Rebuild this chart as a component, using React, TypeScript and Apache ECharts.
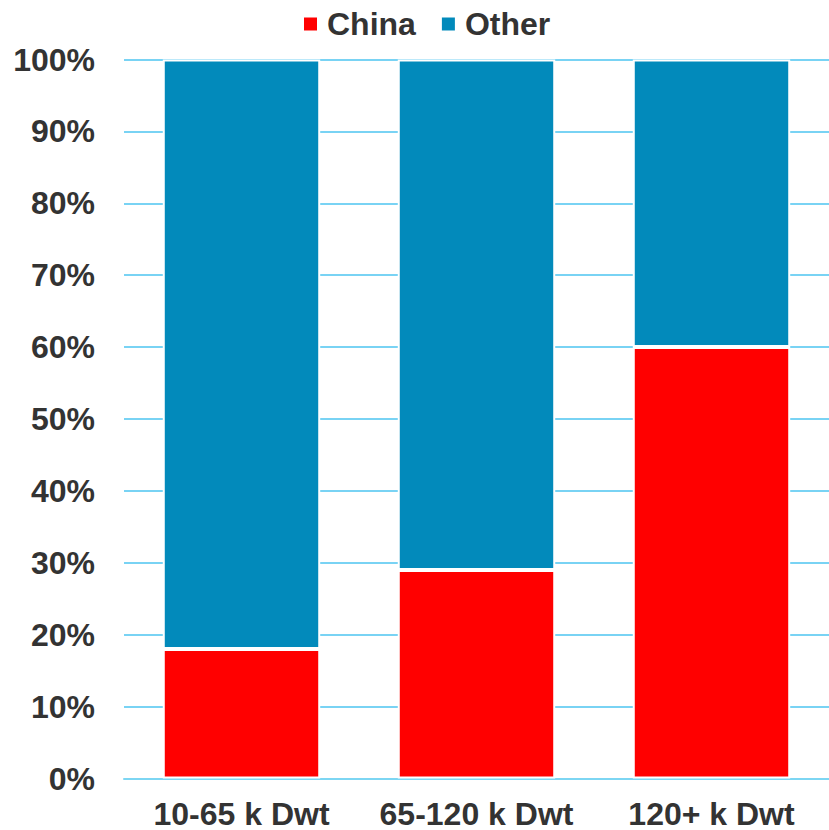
import React, { useEffect, useRef } from "react";
import * as echarts from "echarts";

const categories = ["10-65 k Dwt", "65-120 k Dwt", "120+ k Dwt"];
const chinaShare = [18, 29, 60];
const otherShare = [82, 71, 40];
const seriesNames = ["China", "Other"];

const FONT = "'Liberation Sans', Arial, sans-serif";
const TEXT = "#333333";

export default function App() {
  const ref = useRef<HTMLDivElement>(null);

  useEffect(() => {
    if (!ref.current) return;
    const chart = echarts.init(ref.current, null, { renderer: "svg" });
    chart.setOption({
      animation: false,
      backgroundColor: "#ffffff",
      legend: {
        top: 3,
        left: 297,
        itemWidth: 15,
        itemHeight: 15,
        itemGap: 24,
        icon: "rect",
        textStyle: {
          fontFamily: FONT,
          fontSize: 32,
          fontWeight: "bold",
          color: TEXT,
          padding: [0, 0, 0, 4],
        },
        data: seriesNames,
      },
      grid: { left: 124, right: -6, top: 59.5, bottom: 51.5, containLabel: false },
      xAxis: {
        type: "category",
        data: categories,
        axisLine: { show: true, lineStyle: { color: "#7dd6f3", width: 2 } },
        axisTick: { show: false },
        axisLabel: {
          interval: 0,
          margin: 20,
          lineHeight: 30,
          fontFamily: FONT,
          fontSize: 32,
          fontWeight: "bold",
          color: TEXT,
        },
      },
      yAxis: {
        type: "value",
        min: 0,
        max: 100,
        interval: 10,
        axisLine: { show: false },
        axisTick: { show: false },
        splitLine: { lineStyle: { color: "#4cc5f0", width: 1.5 } },
        axisLabel: {
          margin: 29,
          fontFamily: FONT,
          fontSize: 32,
          fontWeight: "bold",
          color: TEXT,
          formatter: "{value}%",
        },
      },
      series: [
        {
          name: seriesNames[0],
          type: "bar",
          stack: "share",
          data: chinaShare,
          barWidth: "67%",
          itemStyle: { color: "#ff0000", borderColor: "#ffffff", borderWidth: 2 },
        },
        {
          name: seriesNames[1],
          type: "bar",
          stack: "share",
          data: otherShare,
          barWidth: "67%",
          itemStyle: { color: "#028abb", borderColor: "#ffffff", borderWidth: 2 },
        },
      ],
    });
    return () => chart.dispose();
  }, []);

  return (
    <div
      ref={ref}
      style={{ position: "fixed", left: 0, top: 0, width: 829, height: 830, background: "#fff" }}
    />
  );
}
